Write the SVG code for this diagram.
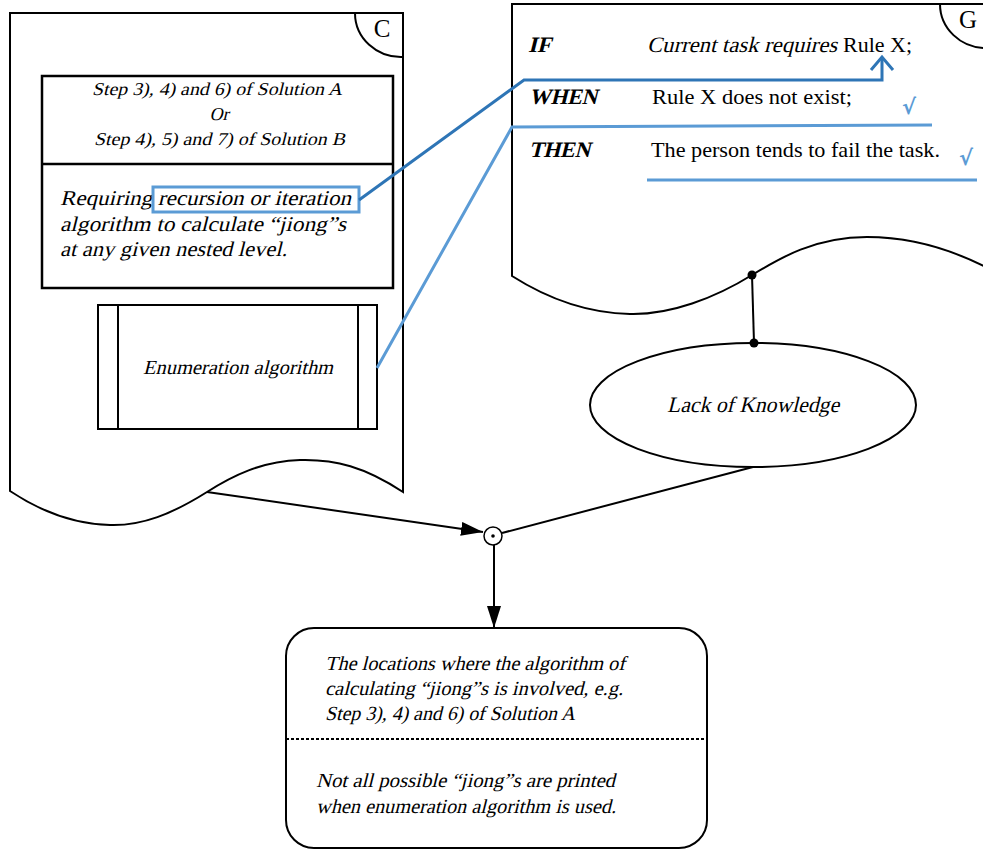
<svg xmlns="http://www.w3.org/2000/svg" width="983" height="850" viewBox="0 0 983 850">
<style>
.ln{fill:none;stroke:#000;stroke-width:2}
.shp{fill:#fff;stroke:#000;stroke-width:2}
.t{font-family:"Liberation Serif","Times New Roman",serif;fill:#000}
.b{font-weight:bold}
.blue1{fill:none;stroke:#2E75B6;stroke-width:3}
.blue2{fill:none;stroke:#5B9BD5;stroke-width:3}
.chk{font-family:"DejaVu Sans",sans-serif;fill:#5B9BD5;font-size:21px;font-weight:bold}
</style>
<defs>
<marker id="ah2" markerWidth="22" markerHeight="14" refX="22" refY="7" orient="auto" markerUnits="userSpaceOnUse" viewBox="0 0 22 14">
<path d="M0,0 L22,7 L0,14 Z" fill="#000"/>
</marker>
</defs>
<rect width="983" height="850" fill="#fff"/>

<g id="docC">
<path class="shp" d="M10,13 L403,13 L403,492 C365,467 335,459 300,460 C262,461 232,476 207,492 C172,514 142,526 110,525 C72,524 40,511 10,491 Z"/>
<path class="ln" d="M355,13 A46,44 0 0 0 403,57"/>
<text class="t" x="382" y="37" font-size="25" text-anchor="middle">C</text>
</g>

<g id="boxSteps">
<rect x="42" y="76" width="351" height="212" fill="#fff" stroke="#000" stroke-width="2.5"/>
<line x1="42" y1="164" x2="393" y2="164" stroke="#000" stroke-width="2.5"/>
<text class="t" font-size="18" transform="translate(92,95) skewX(-14)" textLength="250" lengthAdjust="spacingAndGlyphs">Step 3), 4) and 6) of Solution A</text>
<text class="t" font-size="18" transform="translate(219,120) skewX(-14)" text-anchor="middle">Or</text>
<text class="t" font-size="18" transform="translate(94,145) skewX(-14)" textLength="251" lengthAdjust="spacingAndGlyphs">Step 4), 5) and 7) of Solution B</text>
<text class="t" font-size="21" transform="translate(60,205) skewX(-14)" textLength="291" lengthAdjust="spacingAndGlyphs">Requiring recursion or iteration</text>
<text class="t" font-size="21" transform="translate(60,231) skewX(-14)" textLength="286" lengthAdjust="spacingAndGlyphs">algorithm to calculate “jiong”s</text>
<text class="t" font-size="21" transform="translate(60,256) skewX(-14)" textLength="227" lengthAdjust="spacingAndGlyphs">at any given nested level.</text>
<rect x="153" y="187" width="206" height="25" fill="none" stroke="#5B9BD5" stroke-width="3"/>
</g>

<g id="enumBox">
<rect x="98" y="305" width="279" height="124" class="shp"/>
<line x1="118" y1="305" x2="118" y2="429" stroke="#000" stroke-width="2"/>
<line x1="358" y1="305" x2="358" y2="429" stroke="#000" stroke-width="2"/>
<text class="t" font-size="20" transform="translate(143,374) skewX(-14)" textLength="190" lengthAdjust="spacingAndGlyphs">Enumeration algorithm</text>
</g>

<g id="docG">
<path class="shp" d="M512,4 L995,4 L995,272 C955,250 912,237 867,237 C815,237 780,258 752,275 C715,298 670,315 630,314 C585,313 545,297 512,276 Z"/>
<path class="ln" d="M940,4 A46,44 0 0 0 986,48"/>
<text class="t" x="968" y="28" font-size="25" text-anchor="middle">G</text>
<text class="t b" font-size="22" transform="translate(528,52) skewX(-14)" textLength="23" lengthAdjust="spacingAndGlyphs">IF</text>
<text class="t" font-size="22" transform="translate(647,52) skewX(-14)" textLength="190" lengthAdjust="spacingAndGlyphs">Current task requires</text>
<text class="t" font-size="22" x="843" y="52" textLength="69" lengthAdjust="spacingAndGlyphs">Rule X;</text>
<text class="t b" font-size="22" transform="translate(529,104) skewX(-14)" textLength="68" lengthAdjust="spacingAndGlyphs">WHEN</text>
<text class="t" font-size="22" x="652" y="104" textLength="200" lengthAdjust="spacingAndGlyphs">Rule X does not exist;</text>
<text class="t b" font-size="22" transform="translate(529,157) skewX(-14)" textLength="61" lengthAdjust="spacingAndGlyphs">THEN</text>
<text class="t" font-size="22" x="651" y="157" textLength="289" lengthAdjust="spacingAndGlyphs">The person tends to fail the task.</text>
<text class="chk" x="902" y="114">√</text>
<text class="chk" x="959" y="165">√</text>
</g>

<g id="lackKnowledge">
<ellipse cx="753" cy="405" rx="163" ry="62" class="shp"/>
<text class="t" font-size="22" transform="translate(667,412) skewX(-14)" textLength="172" lengthAdjust="spacingAndGlyphs">Lack of Knowledge</text>
</g>

<g id="junction">
<circle cx="493" cy="536" r="9" fill="#fff" stroke="#000" stroke-width="1.5"/>
<circle cx="493" cy="536" r="1.8" fill="#000"/>
</g>

<g id="resultBox">
<rect x="286" y="628" width="421" height="220" rx="28" ry="28" class="shp"/>
<line x1="286" y1="739" x2="707" y2="739" stroke="#000" stroke-width="2" stroke-dasharray="3,2"/>
<text class="t" font-size="20" transform="translate(325,670) skewX(-14)" textLength="300" lengthAdjust="spacingAndGlyphs">The locations where the algorithm of</text>
<text class="t" font-size="20" transform="translate(325,695) skewX(-14)" textLength="298" lengthAdjust="spacingAndGlyphs">calculating “jiong”s is involved, e.g.</text>
<text class="t" font-size="20" transform="translate(325,720) skewX(-14)" textLength="250" lengthAdjust="spacingAndGlyphs">Step 3), 4) and 6) of Solution A</text>
<text class="t" font-size="20" transform="translate(316,787) skewX(-14)" textLength="299" lengthAdjust="spacingAndGlyphs">Not all possible “jiong”s are printed</text>
<text class="t" font-size="20" transform="translate(316,813) skewX(-14)" textLength="300" lengthAdjust="spacingAndGlyphs">when enumeration algorithm is used.</text>
</g>

<g id="connectors">
<line x1="752" y1="275" x2="754" y2="343" stroke="#000" stroke-width="2"/>
<circle cx="752" cy="275" r="4.5" fill="#000"/>
<circle cx="754" cy="343" r="4.5" fill="#000"/>
<line x1="753" y1="467" x2="502" y2="533" stroke="#000" stroke-width="2"/>
<line x1="207" y1="492" x2="483" y2="532" stroke="#000" stroke-width="2" marker-end="url(#ah2)"/>
<line x1="494" y1="545" x2="494" y2="628" stroke="#000" stroke-width="2" marker-end="url(#ah2)"/>
<polyline class="blue1" points="359,200 524,80 882,80 882,57"/>
<polyline class="blue1" points="871,70 882,57 893,70"/>
<polyline class="blue2" points="377,368 512,127 932,125"/>
<line class="blue2" x1="647" y1="180" x2="977" y2="180"/>
</g>
</svg>
